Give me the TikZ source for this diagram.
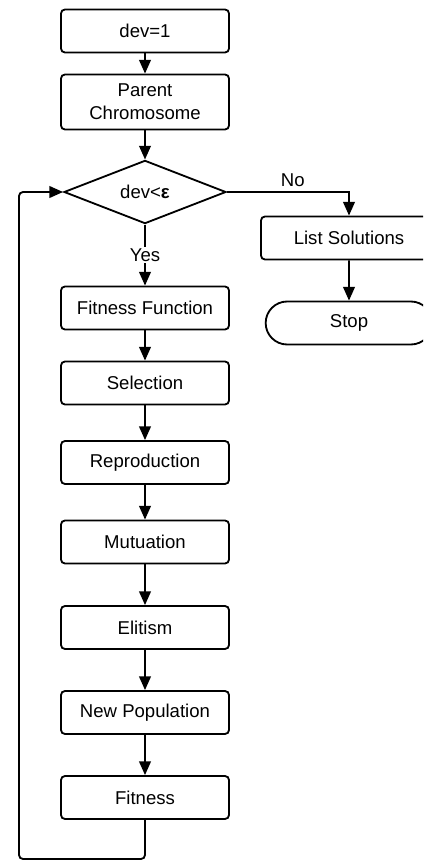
\documentclass[tikz,border=0pt]{standalone}
\usepackage{fontspec}
\setmainfont{Liberation Sans}
\usepackage{tikz}
\usetikzlibrary{shapes,arrows,positioning,calc,arrows.meta}

\begin{document}
\begin{tikzpicture}[x=0.025cm,y=-0.025cm,
        font=\fontsize{13.2}{16.4}\selectfont,
        stepbox/.style={draw, line width=1.3pt, rounded corners=0.1cm, minimum width=4.2cm, minimum height=1.075cm, inner sep=2pt, align=center},
        decision/.style={draw, diamond, line width=1.3pt, minimum width=4.05cm, minimum height=1.5cm, inner sep=0pt},
        terminal/.style={draw, rounded rectangle, line width=1.3pt, minimum width=4.4cm, minimum height=1.075cm},
        flow/.style={line width=1.3pt, -{Triangle[length=0.34cm,width=0.29cm]}}]
        \clip (0,0) rectangle (423,861);

        \node[stepbox] (init) at (145,31) {dev=1};
        \node[stepbox, minimum height=1.375cm] (parent) at (145,102) {Parent\\Chromosome};
        \node[decision] (test) at (145,192) {dev<{\bfseries ε}};
        \node[stepbox, minimum width=4.4cm] (list) at (349,238) {List Solutions};
        \node[terminal] (stop) at (349,323) {Stop};

        \node[stepbox] (fitfun) at (145,308) {Fitness Function};
        \node[stepbox] (sel) at (145,383) {Selection};
        \node[stepbox] (repro) at (145,462.5) {Reproduction};
        \node[stepbox] (mut) at (145,542) {Mutuation};
        \node[stepbox] (elit) at (145,627.5) {Elitism};
        \node[stepbox] (newpop) at (145,712.5) {New Population};
        \node[stepbox] (fit) at (145,797.5) {Fitness};
        \coordinate (loop) at (19,859);

        \draw[flow] (init) -- (parent);
        \draw[flow] (parent) -- (test);
        \draw[flow] (test.east) -| node[pos=0.27, above] {No} (list.north);
        \draw[flow] (list) -- (stop);
        \draw[flow] (test.south) -- node[fill=white, inner sep=1pt] {Yes} (fitfun.north);
        \draw[flow] (fitfun) -- (sel);
        \draw[flow] (sel) -- (repro);
        \draw[flow] (repro) -- (mut);
        \draw[flow] (mut) -- (elit);
        \draw[flow] (elit) -- (newpop);
        \draw[flow] (newpop) -- (fit);
        \draw[flow, rounded corners=0.1cm] (fit.south) |- (loop) |- (test.west); % back to test
\end{tikzpicture}
\end{document}
